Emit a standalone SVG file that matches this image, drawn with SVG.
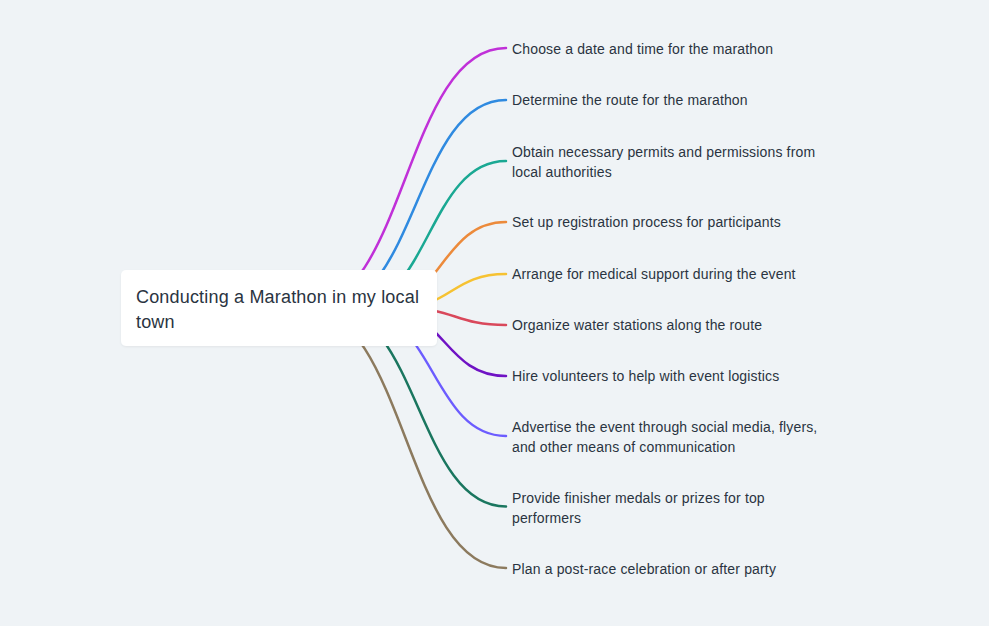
<svg xmlns="http://www.w3.org/2000/svg" width="989" height="626" viewBox="0 0 989 626">
<defs>
<style>
.bg{fill:#eff3f6}
.link{fill:none;stroke-width:2.5;stroke-linecap:round}
.lbl{font-family:"Liberation Sans",Arial,sans-serif;font-size:14px;letter-spacing:0.15px;fill:#2a3441}
.root{font-family:"Liberation Sans",Arial,sans-serif;font-size:18px;letter-spacing:0.18px;fill:#2a3441}
.card{fill:#ffffff}
</style>
<filter id="sh" x="-10%" y="-20%" width="120%" height="140%">
<feDropShadow dx="0" dy="1" stdDeviation="1" flood-color="#000" flood-opacity="0.06"/>
</filter>
</defs>
<rect class="bg" x="0" y="0" width="989" height="626"/>
<g id="connectors">
<path class="link" stroke="#c030d8" d="M305 308 C405.5 308 405.5 48 506 48"/>
<path class="link" stroke="#2f8ae0" d="M326 308 C416 308 416 100 506 100"/>
<path class="link" stroke="#1aa893" d="M351 308 C428.5 308 428.5 161 506 161"/>
<path class="link" stroke="#ec8a3b" d="M376 308 C441 308 441 222 506 222"/>
<path class="link" stroke="#f6c232" d="M397 308 C451.5 308 451.5 274 506 274"/>
<path class="link" stroke="#d9485b" d="M404 308 C455 308 455 325 506 325"/>
<path class="link" stroke="#6f12c4" d="M383 308 C444.5 308 444.5 376 506 376"/>
<path class="link" stroke="#6c5cff" d="M359 308 C432.5 308 432.5 436 506 436"/>
<path class="link" stroke="#1a765f" d="M330 308 C418 308 418 506.5 506 506.5"/>
<path class="link" stroke="#8c7a5e" d="M305 308 C405.5 308 405.5 568 506 568"/>
</g>
<g id="root">
<rect class="card" x="121" y="270" width="316" height="76" rx="5" filter="url(#sh)"/>
<text class="root" x="136" y="302.5">Conducting a Marathon in my local</text>
<text class="root" x="136" y="327.5">town</text>
</g>
<g id="n1"><text class="lbl" x="512" y="54">Choose a date and time for the marathon</text></g>
<g id="n2"><text class="lbl" x="512" y="105">Determine the route for the marathon</text></g>
<g id="n3"><text class="lbl" x="512" y="156.5">Obtain necessary permits and permissions from</text><text class="lbl" x="512" y="176.5">local authorities</text></g>
<g id="n4"><text class="lbl" x="512" y="227">Set up registration process for participants</text></g>
<g id="n5"><text class="lbl" x="512" y="278.5">Arrange for medical support during the event</text></g>
<g id="n6"><text class="lbl" x="512" y="329.5">Organize water stations along the route</text></g>
<g id="n7"><text class="lbl" x="512" y="380.5">Hire volunteers to help with event logistics</text></g>
<g id="n8"><text class="lbl" x="512" y="431.5">Advertise the event through social media, flyers,</text><text class="lbl" x="512" y="451.5">and other means of communication</text></g>
<g id="n9"><text class="lbl" x="512" y="502.5">Provide finisher medals or prizes for top</text><text class="lbl" x="512" y="522.5">performers</text></g>
<g id="n10"><text class="lbl" x="512" y="573.5">Plan a post-race celebration or after party</text></g>
</svg>
